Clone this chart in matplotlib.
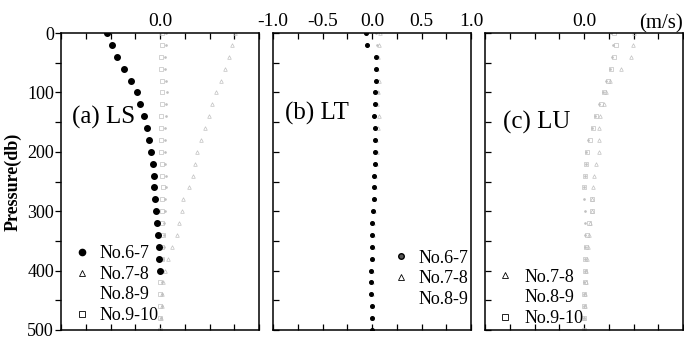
import numpy as np
import matplotlib
matplotlib.use("Agg")
import matplotlib.pyplot as plt
from matplotlib.lines import Line2D

plt.rcParams['font.family'] = ['Liberation Serif', 'DejaVu Serif']

# ---- data (velocity in m/s vs pressure in db) ----
# panel (a) LS
a_depth_67 = [0, 20, 40, 60, 80, 100, 120, 140, 160, 180, 200, 220, 240, 260,
              280, 300, 320, 340, 360, 380, 400]
a_vel_67 = [-0.54, -0.48, -0.43, -0.36, -0.29, -0.23, -0.20, -0.16, -0.13, -0.11,
            -0.09, -0.07, -0.06, -0.06, -0.05, -0.04, -0.03, -0.02, -0.01, -0.01, 0.0]
a_depth_78 = [0, 20, 40, 60, 80, 100, 120, 140, 160, 180, 200, 220, 240, 260,
              280, 300, 320, 340, 360, 380, 400, 420, 440, 460, 480]
a_vel_78 = [0.76, 0.73, 0.70, 0.66, 0.62, 0.57, 0.53, 0.49, 0.45, 0.41, 0.37, 0.35,
            0.33, 0.29, 0.23, 0.22, 0.19, 0.17, 0.12, 0.08, 0.05, 0.03, 0.02, 0.02, 0.01]
a_depth_89 = [0, 20, 40, 60, 80, 100, 120, 140, 160, 180, 200, 220, 240, 260,
              280, 300, 320, 340, 360, 380, 400, 420, 440, 460, 480, 500]
a_vel_89 = [0.06, 0.06, 0.05, 0.05, 0.06, 0.07, 0.06, 0.06, 0.05, 0.05, 0.05, 0.05,
            0.06, 0.06, 0.05, 0.05, 0.04, 0.04, 0.04, 0.03, 0.03, 0.02, 0.02, 0.02, 0.01, 0.01]
a_depth_910 = [0, 20, 40, 60, 80, 100, 120, 140, 160, 180, 200, 220, 240, 260,
               280, 300, 320, 340, 360, 380, 400, 420, 440, 460, 480, 500]
a_vel_910 = [0.02, 0.02, 0.01, 0.01, 0.02, 0.02, 0.02, 0.01, 0.01, 0.01, 0.01, 0.02,
             0.02, 0.03, 0.02, 0.02, 0.02, 0.03, 0.02, 0.02, 0.01, 0.0, 0.0, 0.0, 0.0, 0.0]

# panel (b) LT
b_depth = [0, 20, 40, 60, 80, 100, 120, 140, 160, 180, 200, 220, 240, 260,
           280, 300, 320, 340, 360, 380, 400, 420, 440, 460, 480, 500]
b_vel_67 = [-0.06, -0.05, 0.04, 0.04, 0.04, 0.03, 0.03, 0.02, 0.03, 0.03, 0.03, 0.03,
            0.02, 0.02, 0.02, 0.01, 0.0, 0.0, 0.0, 0.0, -0.01, -0.01, -0.01, 0.0, 0.0, 0.0]
b_vel_78 = [0.08, 0.07, 0.06, 0.05, 0.07, 0.06, 0.05, 0.07, 0.06, 0.04, 0.05, 0.04,
            0.03, 0.03, 0.02, 0.02, 0.01, 0.01, 0.01, 0.0, 0.0, 0.0, 0.0, 0.0, 0.0, 0.0]
b_vel_89 = [0.04, 0.05, 0.06, 0.05, 0.04, 0.06, 0.04, 0.03, 0.03, 0.04, 0.03, 0.02,
            0.02, 0.02, 0.01, 0.01, 0.01, 0.0, 0.0, 0.0, 0.0, 0.0, -0.01, 0.0, 0.0, 0.0]

# panel (c) LU
c_depth_78 = [0, 20, 40, 60, 80, 100, 120, 140, 160, 180, 200, 220, 240, 260,
              280, 300, 320, 340, 360, 380, 400, 420, 440, 460, 480]
c_vel_78 = [0.51, 0.49, 0.47, 0.37, 0.26, 0.22, 0.20, 0.16, 0.15, 0.15, 0.15, 0.12,
            0.10, 0.09, 0.08, 0.08, 0.06, 0.05, 0.04, 0.03, 0.02, 0.02, 0.01, 0.01, 0.0]
c_depth_89 = [0, 20, 40, 60, 80, 100, 120, 140, 160, 180, 200, 220, 240, 260,
              280, 300, 320, 340, 360, 380, 400, 420, 440, 460, 480, 500]
c_vel_89 = [0.27, 0.29, 0.28, 0.26, 0.22, 0.19, 0.15, 0.11, 0.08, 0.04, 0.02, 0.02,
            0.01, 0.0, 0.0, 0.01, 0.01, 0.01, 0.01, 0.01, 0.01, 0.0, 0.0, 0.0, 0.0, 0.0]
c_depth_910 = [0, 20, 40, 60, 80, 100, 120, 140, 160, 180, 200, 220, 240, 260,
               280, 300, 320, 340, 360, 380, 400, 420, 440, 460, 480, 500]
c_vel_910 = [0.30, 0.32, 0.30, 0.27, 0.24, 0.20, 0.17, 0.12, 0.09, 0.06, 0.03, 0.02,
             0.01, 0.0, 0.08, 0.08, 0.05, 0.03, 0.02, 0.01, 0.01, 0.01, 0.0, 0.0, 0.0, 0.0]

x_ticks = [-1.0, -0.75, -0.5, -0.25, 0.0, 0.25, 0.5, 0.75, 1.0]
a_tick_labels = ['', '', '', '', '0.0', '', '', '', '']
b_tick_labels = ['-1.0', '', '-0.5', '', '0.0', '', '0.5', '', '1.0']
c_tick_labels = a_tick_labels

FS = 13
faint = '#c0c0c0'

fig = plt.figure(figsize=(6.84, 3.43), dpi=100)
W, H = 684.0, 343.0
top, bottom = 33.0, 330.0
lefts = [61, 273, 485]
width = 198
axes = [fig.add_axes([l / W, 1 - bottom / H, width / W, (bottom - top) / H]) for l in lefts]


def style_axis(ax, tick_labels, left_labels):
    ax.set_xlim(-1.0, 1.0)
    ax.set_ylim(500, 0)
    ax.set_xticks(x_ticks)
    ax.set_xticklabels(tick_labels, fontsize=14)
    ax.tick_params(axis='x', top=True, bottom=True, labeltop=True, labelbottom=False,
                   direction='in', length=4, width=0.9, pad=2)
    ax.set_yticks([0, 100, 200, 300, 400, 500])
    ax.set_yticks([50, 150, 250, 350, 450], minor=True)
    if left_labels:
        ax.set_yticklabels(['0', '100', '200', '300', '400', '500'], fontsize=FS)
        ax.tick_params(axis='y', which='both', direction='out', length=4, width=0.9,
                       pad=1, left=True, right=False)
    else:
        ax.set_yticklabels([])
        ax.tick_params(axis='y', which='both', direction='in', length=4, width=0.9,
                       left=True, right=False)
    for s in ax.spines.values():
        s.set_linewidth(1.1)


ms_kw = dict(linestyle='none', markerfacecolor='none', markeredgecolor=faint,
             markeredgewidth=0.5, markersize=2.6)

# (a) LS
ax = axes[0]
style_axis(ax, a_tick_labels, True)
ax.plot(a_vel_78, a_depth_78, marker='^', **ms_kw)
ax.plot(a_vel_89, a_depth_89, marker='.', linestyle='none', color=faint, markersize=1.8)
ax.plot(a_vel_910, a_depth_910, marker='s', **ms_kw)
ax.plot(a_vel_67, a_depth_67, 'o', color='black', markersize=4)
ax.set_ylabel('Pressure(db)', fontsize=13, fontweight='bold', labelpad=4)
ax.text(0.055, 0.717, '(a) LS', transform=ax.transAxes, fontsize=18, va='center')
h67 = Line2D([], [], marker='o', linestyle='none', color='black', markersize=4.5)
h78 = Line2D([], [], marker='^', linestyle='none', markerfacecolor='none',
             markeredgecolor='black', markeredgewidth=0.6, markersize=5)
h89 = Line2D([], [], marker='.', linestyle='none', color='white', markersize=1)
h910 = Line2D([], [], marker='s', linestyle='none', markerfacecolor='none',
              markeredgecolor='black', markeredgewidth=0.6, markersize=4.5)
ax.legend([h67, h78, h89, h910], ['No.6-7', 'No.7-8', 'No.8-9', 'No.9-10'],
          loc='lower left', bbox_to_anchor=(0.059, 0.02), frameon=False, fontsize=FS,
          handlelength=1.0, handletextpad=0.5, labelspacing=0.2, borderpad=0,
          borderaxespad=0)

# (b) LT
ax = axes[1]
style_axis(ax, b_tick_labels, False)
ax.plot(b_vel_78, b_depth, marker='^', **ms_kw)
ax.plot(b_vel_89, b_depth, marker='.', linestyle='none', color=faint, markersize=1.8)
ax.plot(b_vel_67, b_depth, 'o', color='black', markersize=2.6)
ax.text(0.06, 0.73, '(b) LT', transform=ax.transAxes, fontsize=18, va='center')
h67b = Line2D([], [], marker='o', linestyle='none', markerfacecolor='#555555',
              markeredgecolor='black', markersize=4)
ax.legend([h67b, h78, h89], ['No.6-7', 'No.7-8', 'No.8-9'],
          loc='lower left', bbox_to_anchor=(0.60, 0.075), frameon=False, fontsize=FS,
          handlelength=1.0, handletextpad=0.46, labelspacing=0.2, borderpad=0,
          borderaxespad=0)

# (c) LU
ax = axes[2]
style_axis(ax, c_tick_labels, False)
ax.plot(c_vel_78, c_depth_78, marker='^', **ms_kw)
ax.plot(c_vel_89, c_depth_89, marker='.', linestyle='none', color=faint, markersize=1.8)
ax.plot(c_vel_910, c_depth_910, marker='s', **ms_kw)
ax.text(0.09, 0.70, '(c) LU', transform=ax.transAxes, fontsize=18, va='center')
ax.text(1.0, 1.0, '(m/s)', transform=ax.transAxes, fontsize=15, ha='right', va='bottom')
ax.legend([h78, h89, h910], ['No.7-8', 'No.8-9', 'No.9-10'],
          loc='lower left', bbox_to_anchor=(0.054, 0.01), frameon=False, fontsize=FS,
          handlelength=1.0, handletextpad=0.57, labelspacing=0.2, borderpad=0,
          borderaxespad=0)

fig.savefig('out.png', dpi=100)
